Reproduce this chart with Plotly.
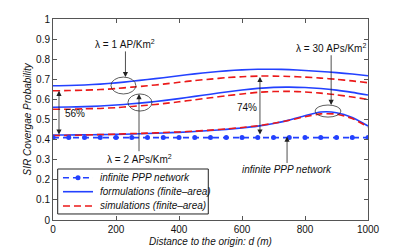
import plotly.graph_objects as go

# ---------------- data ----------------
distance = [0, 50, 100, 150, 200, 250, 300, 350, 400, 450, 500,
            550, 600, 650, 700, 750, 800, 850, 900, 950, 1000]

infinite_ppp = [0.41] * 21

form_lam1 = [0.668, 0.669, 0.672, 0.676, 0.682, 0.690, 0.699, 0.708, 0.718, 0.727, 0.735,
             0.742, 0.747, 0.750, 0.750, 0.748, 0.744, 0.739, 0.733, 0.726, 0.718]
sim_lam1 = [0.643, 0.644, 0.646, 0.649, 0.654, 0.661, 0.668, 0.676, 0.685, 0.694, 0.701,
            0.708, 0.713, 0.716, 0.716, 0.714, 0.711, 0.706, 0.700, 0.692, 0.683]

form_lam2 = [0.561, 0.562, 0.564, 0.567, 0.572, 0.578, 0.585, 0.594, 0.604, 0.615, 0.626,
             0.637, 0.647, 0.655, 0.660, 0.661, 0.659, 0.654, 0.646, 0.635, 0.622]
sim_lam2 = [0.551, 0.551, 0.553, 0.555, 0.559, 0.565, 0.571, 0.579, 0.588, 0.598, 0.608,
            0.618, 0.627, 0.635, 0.639, 0.640, 0.637, 0.631, 0.623, 0.612, 0.600]

form_lam30 = [0.423, 0.423, 0.424, 0.425, 0.426, 0.428, 0.430, 0.433, 0.436, 0.440, 0.445,
              0.451, 0.458, 0.467, 0.480, 0.497, 0.519, 0.537, 0.534, 0.510, 0.468]
sim_lam30 = [0.420, 0.421, 0.423, 0.425, 0.427, 0.430, 0.432, 0.435, 0.438, 0.442, 0.447,
             0.453, 0.460, 0.469, 0.481, 0.496, 0.514, 0.528, 0.527, 0.505, 0.463]

x_ticks = [0, 200, 400, 600, 800, 1000]
x_tick_labels = ["0", "200", "400", "600", "800", "1000"]
y_ticks = [0, 0.1, 0.2, 0.3, 0.4, 0.5, 0.6, 0.7, 0.8, 0.9, 1]
y_tick_labels = ["0", "0.1", "0.2", "0.3", "0.4", "0.5", "0.6", "0.7", "0.8", "0.9", "1"]

legend_names = ["infinite PPP network", "formulations (finite\u2013area)", "simulations (finite\u2013area)"]

BLUE = "rgb(35,65,255)"
RED = "rgb(235,25,25)"
FONT = "Liberation Sans, Arial, Helvetica, sans-serif"
RED_DASH = "7px,4px"
PPP_DASH = "6px,4px"

fig = go.Figure()

for ys in [form_lam1, form_lam2, form_lam30]:
    fig.add_trace(go.Scatter(x=distance, y=ys, mode="lines",
                             line=dict(color=BLUE, width=1.6, shape="spline", smoothing=0.6),
                             name=legend_names[1], showlegend=False, hoverinfo="skip"))
for ys in [sim_lam1, sim_lam2, sim_lam30]:
    fig.add_trace(go.Scatter(x=distance, y=ys, mode="lines",
                             line=dict(color=RED, width=1.6, dash=RED_DASH, shape="spline", smoothing=0.6),
                             name=legend_names[2], showlegend=False, hoverinfo="skip"))
fig.add_trace(go.Scatter(x=distance, y=infinite_ppp, mode="lines+markers",
                         line=dict(color=BLUE, width=1.6, dash=PPP_DASH),
                         marker=dict(color=BLUE, size=5),
                         name=legend_names[0], showlegend=False, hoverinfo="skip"))

# ellipses
ell = dict(type="circle", xref="x", yref="y", line=dict(color="#333", width=0.8))
fig.add_shape(x0=184, x1=263, y0=0.627, y1=0.711, **ell)
fig.add_shape(x0=238, x1=314, y0=0.542, y1=0.627, **ell)
fig.add_shape(x0=832, x1=914, y0=0.512, y1=0.572, **ell)

txt_font = dict(family=FONT, size=10, color="#111")
it_font = dict(family=FONT, size=10, color="#111", style="italic")
arrow_style = dict(arrowhead=2, arrowsize=1.3, arrowwidth=0.8, arrowcolor="#222",
                   startarrowhead=2, startarrowsize=1.3)


def label(x, y, text, font=txt_font):
    fig.add_annotation(x=x, y=y, xref="x", yref="y", text=text, showarrow=False, font=font)


def text_arrow(tx, ty, hx, hy, text, font=txt_font):
    # text placed at (tx, ty); arrow runs from the text to (hx, hy)
    fig.add_annotation(x=hx, y=hy, ax=tx, ay=ty, xref="x", yref="y", axref="x", ayref="y",
                       text=text, showarrow=True, font=font, standoff=0, **arrow_style)


def double_arrow(x, y0, y1):
    fig.add_annotation(x=x, y=y1, ax=x, ay=y0, xref="x", yref="y", axref="x", ayref="y",
                       text=" ", font=dict(size=1), showarrow=True,
                       arrowside="end+start", **arrow_style)


text_arrow(230, 0.876, 230, 0.711, "\u03bb = 1 AP/Km<sup>2</sup>")
text_arrow(273, 0.305, 273, 0.627, "\u03bb = 2 APs/Km<sup>2</sup>")
text_arrow(883, 0.857, 883, 0.572, "\u03bb = 30 APs/Km<sup>2</sup>")
text_arrow(743, 0.249, 743, 0.415, "infinite PPP network", it_font)
label(70, 0.532, "56%")
double_arrow(19, 0.415, 0.643)
label(616, 0.562, "74%")
double_arrow(657, 0.415, 0.712)

# axis titles as paper annotations
fig.add_annotation(x=0.5, y=-0.108, xref="paper", yref="paper", yanchor="middle",
                   text="Distance to the origin: d (m)", showarrow=False, font=it_font)
fig.add_annotation(x=-0.0825, y=0.5, xref="paper", yref="paper", xanchor="center", yanchor="middle",
                   text="SIR Covergae Probability", textangle=-90, showarrow=False, font=it_font)

# ---- legend (drawn in paper coordinates for MATLAB-like compact spacing) ----
leg_x0, leg_x1, leg_y0, leg_y1 = 0.0149, 0.493, 0.030, 0.2537
fig.add_shape(type="rect", xref="paper", yref="paper", x0=leg_x0, x1=leg_x1, y0=leg_y0, y1=leg_y1,
              line=dict(color="#222", width=1), fillcolor="white", layer="above")
leg_rows = [0.2104, 0.1408, 0.0697]
sym_x0, sym_x1, text_x = 0.0317, 0.127, 0.1419
leg_styles = [dict(color=BLUE, width=1.6, dash=PPP_DASH),
              dict(color=BLUE, width=1.6),
              dict(color=RED, width=1.6, dash=RED_DASH)]
for name, yrow, st in zip(legend_names, leg_rows, leg_styles):
    fig.add_shape(type="line", xref="paper", yref="paper", x0=sym_x0, x1=sym_x1, y0=yrow, y1=yrow,
                  line=st, layer="above")
    fig.add_annotation(x=text_x, y=yrow, xref="paper", yref="paper", xanchor="left", yanchor="middle",
                       text=name, showarrow=False, font=it_font)
mx = (sym_x0 + sym_x1) / 2
fig.add_shape(type="circle", xref="paper", yref="paper", x0=mx - 0.008, x1=mx + 0.008,
              y0=leg_rows[0] - 0.0125, y1=leg_rows[0] + 0.0125,
              line=dict(color=BLUE, width=0), fillcolor=BLUE, layer="above")

axis_common = dict(showgrid=False, zeroline=False, showline=True, linecolor="#555", linewidth=1,
                   mirror="ticks", ticks="inside", ticklen=4, tickcolor="#555", automargin=False,
                   showticklabels=True, tickmode="array",
                   tickfont=dict(family=FONT, size=10, color="#111"))

fig.update_xaxes(range=[0, 1000], tickvals=x_ticks, ticktext=x_tick_labels, **axis_common)
fig.update_yaxes(range=[0, 1], tickvals=y_ticks, ticktext=y_tick_labels, **axis_common)

# page body has an 8px default margin: figure is sized/offset to compensate
fig.update_layout(
    template="none",
    width=399, height=241,
    margin=dict(l=45, r=39, t=11, b=29, autoexpand=False),
    paper_bgcolor="white", plot_bgcolor="white",
    showlegend=False,
)

fig.write_html("out.html")
